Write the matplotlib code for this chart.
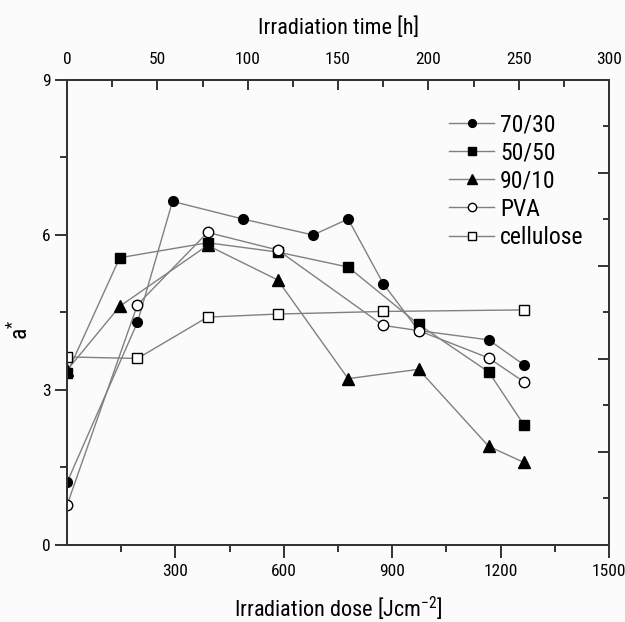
import matplotlib
matplotlib.use("Agg")
import matplotlib.pyplot as plt
from matplotlib.ticker import MultipleLocator, FixedLocator

plt.rcParams['font.family'] = ['Roboto Condensed', 'DejaVu Sans']
plt.rcParams['mathtext.fontset'] = 'custom'
plt.rcParams['mathtext.rm'] = 'Roboto Condensed'
plt.rcParams['mathtext.default'] = 'regular'

# data (dose in J cm^-2, a*)
dose_7030 = [0, 195, 292, 486, 681, 778, 875, 973, 1167, 1264]
a_7030 = [1.21, 4.31, 6.65, 6.31, 6.0, 6.31, 5.06, 4.15, 3.97, 3.49]

dose_5050 = [0, 146, 389, 583, 778, 973, 1167, 1264]
a_5050 = [3.32, 5.56, 5.85, 5.67, 5.38, 4.27, 3.35, 2.33]

dose_9010 = [0, 146, 389, 583, 778, 973, 1167, 1264]
a_9010 = [3.38, 4.62, 5.80, 5.13, 3.22, 3.40, 1.91, 1.60]

dose_pva = [0, 195, 389, 583, 875, 973, 1167, 1264]
a_pva = [0.77, 4.65, 6.05, 5.71, 4.25, 4.15, 3.62, 3.16]

dose_cell = [0, 195, 389, 583, 875, 1264]
a_cell = [3.64, 3.61, 4.41, 4.47, 4.52, 4.55]

labels = ['70/30', '50/50', '90/10', 'PVA', 'cellulose']

bg = '#fbfbfb'
fig = plt.figure(figsize=(6.25, 6.22), dpi=100, facecolor=bg)
ax = fig.add_axes([0.1072, 0.1238, 0.8672, 0.7476], facecolor=bg)

lc = '#808080'
common = dict(color=lc, lw=1.0, markeredgecolor='black', markeredgewidth=1.0)
ax.plot(dose_7030, a_7030, marker='o', ms=7, markerfacecolor='black', label=labels[0], **common)
ax.plot(dose_5050, a_5050, marker='s', ms=7, markerfacecolor='black', label=labels[1], **common)
ax.plot(dose_9010, a_9010, marker='^', ms=9, markerfacecolor='black', label=labels[2], **common)
ax.plot(dose_pva, a_pva, marker='o', ms=7.5, markerfacecolor='white', label=labels[3], **common)
ax.plot(dose_cell, a_cell, marker='s', ms=7, markerfacecolor='white', label=labels[4], **common)

ax.set_xlim(0, 1500)
ax.set_ylim(0, 9)
spc = '#333333'
for s in ax.spines.values():
    s.set_color(spc)
    s.set_linewidth(1.4)

ax.xaxis.set_major_locator(FixedLocator([300, 600, 900, 1200, 1500]))
ax.xaxis.set_minor_locator(FixedLocator([150, 450, 750, 1050, 1350]))
ax.yaxis.set_major_locator(MultipleLocator(3))
ax.yaxis.set_minor_locator(MultipleLocator(1.5))
ax.tick_params(which='major', direction='out', length=9, width=1.4, color=spc, labelsize=12.5, pad=3)
ax.tick_params(which='minor', direction='out', length=5, width=1.4, color=spc)
ax.tick_params(axis='x', which='major', pad=5)
ax.set_xlabel('Irradiation dose [Jcm$^{-2}$]', fontsize=16)
ax.xaxis.set_label_coords(0.5, -0.108)
ax.set_ylabel('a$^{*}$', fontsize=17)
ax.yaxis.set_label_coords(-0.062, 0.462)

# top axis: irradiation time
axt = ax.twiny()
axt.set_xlim(0, 300)
axt.xaxis.set_major_locator(MultipleLocator(50))
axt.xaxis.set_minor_locator(MultipleLocator(25))
axt.tick_params(which='major', direction='in', length=7, width=1.4, color=spc, labelsize=12.5, pad=9)
axt.tick_params(which='minor', direction='in', length=5, width=1.4, color=spc)
axt.set_xlabel('Irradiation time [h]', fontsize=16)
axt.xaxis.set_label_coords(0.5, 1.098)
for s in axt.spines.values():
    s.set_color(spc)
    s.set_linewidth(1.4)

# right axis: unlabeled ticks
axr = ax.twinx()
axr.set_ylim(0, 10)
axr.yaxis.set_major_locator(FixedLocator([2, 4, 6, 8]))
axr.yaxis.set_minor_locator(FixedLocator([1, 3, 5, 7, 9]))
axr.tick_params(which='major', direction='in', length=8, width=1.4, color=spc, labelright=False)
axr.tick_params(which='minor', direction='in', length=4, width=1.4, color=spc)
for s in axr.spines.values():
    s.set_color(spc)
    s.set_linewidth(1.4)

leg = ax.legend(loc='upper left', bbox_to_anchor=(0.705, 0.929), frameon=False, fontsize=17,
                handlelength=1.9, handletextpad=0.25, labelspacing=0.22, borderaxespad=0.0,
                borderpad=0.0, markerscale=0.8)

fig.savefig('out.png', dpi=100, facecolor=bg)
